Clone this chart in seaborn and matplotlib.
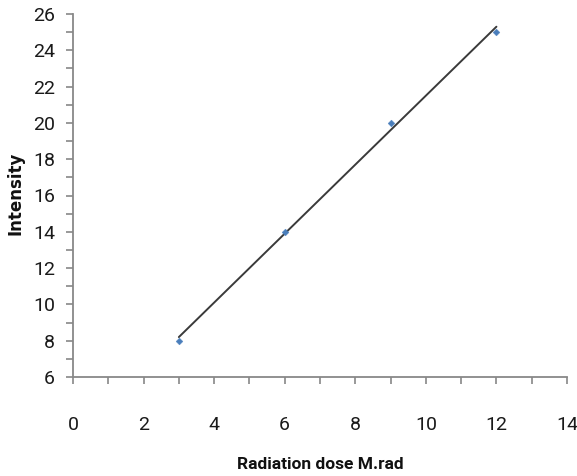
import matplotlib
matplotlib.use("Agg")
import matplotlib.pyplot as plt
import seaborn as sns
import pandas as pd
from matplotlib.ticker import MultipleLocator

dose = [3, 6, 9, 12]
intensity = [8, 14, 20, 25]
x_ticks = [0, 2, 4, 6, 8, 10, 12, 14]
y_ticks = [6, 8, 10, 12, 14, 16, 18, 20, 22, 24, 26]

sns.set_style("white")
plt.rcParams['font.family'] = ['Roboto', 'DejaVu Sans']

df = pd.DataFrame({"dose": dose, "intensity": intensity})

fig = plt.figure(figsize=(5.77, 4.76), dpi=100)
ax = fig.add_axes([73/577, 99/476, 494/577, 363/476])

sns.regplot(data=df, x="dose", y="intensity", scatter=False, ci=None, truncate=True,
            line_kws=dict(color="#3a3a3a", lw=1.4), ax=ax)
sns.scatterplot(data=df, x="dose", y="intensity", marker="D", s=12, color="#4a7ebb",
                edgecolor="#4a7ebb", ax=ax, zorder=3)

ax.set_xlim(0, 14)
ax.set_ylim(6, 26)
ax.set_xticks(x_ticks)
ax.set_yticks(y_ticks)
ax.xaxis.set_minor_locator(MultipleLocator(1))
ax.yaxis.set_minor_locator(MultipleLocator(1))
for s in ["top", "right"]:
    ax.spines[s].set_visible(False)
for s in ["left", "bottom"]:
    ax.spines[s].set_color("#888888")
    ax.spines[s].set_linewidth(1.3)
ax.tick_params(which="both", direction="out", length=5, width=1.2, color="#888888",
               bottom=True, left=True)
ax.tick_params(axis="x", which="major", pad=23, labelsize=14, labelcolor="#1a1a1a")
ax.tick_params(axis="y", which="major", pad=8, labelsize=14, labelcolor="#1a1a1a")
ax.set_xlabel("Radiation dose M.rad", fontsize=12.5, fontweight="bold", color="#111111")
ax.xaxis.set_label_coords(0.5, -0.22)
ax.set_ylabel("Intensity", fontsize=12, fontweight="bold", color="#111111",
              family=["DejaVu Sans"])
ax.yaxis.set_label_coords(-0.099, 0.507)

fig.savefig("out.png", dpi=100)
